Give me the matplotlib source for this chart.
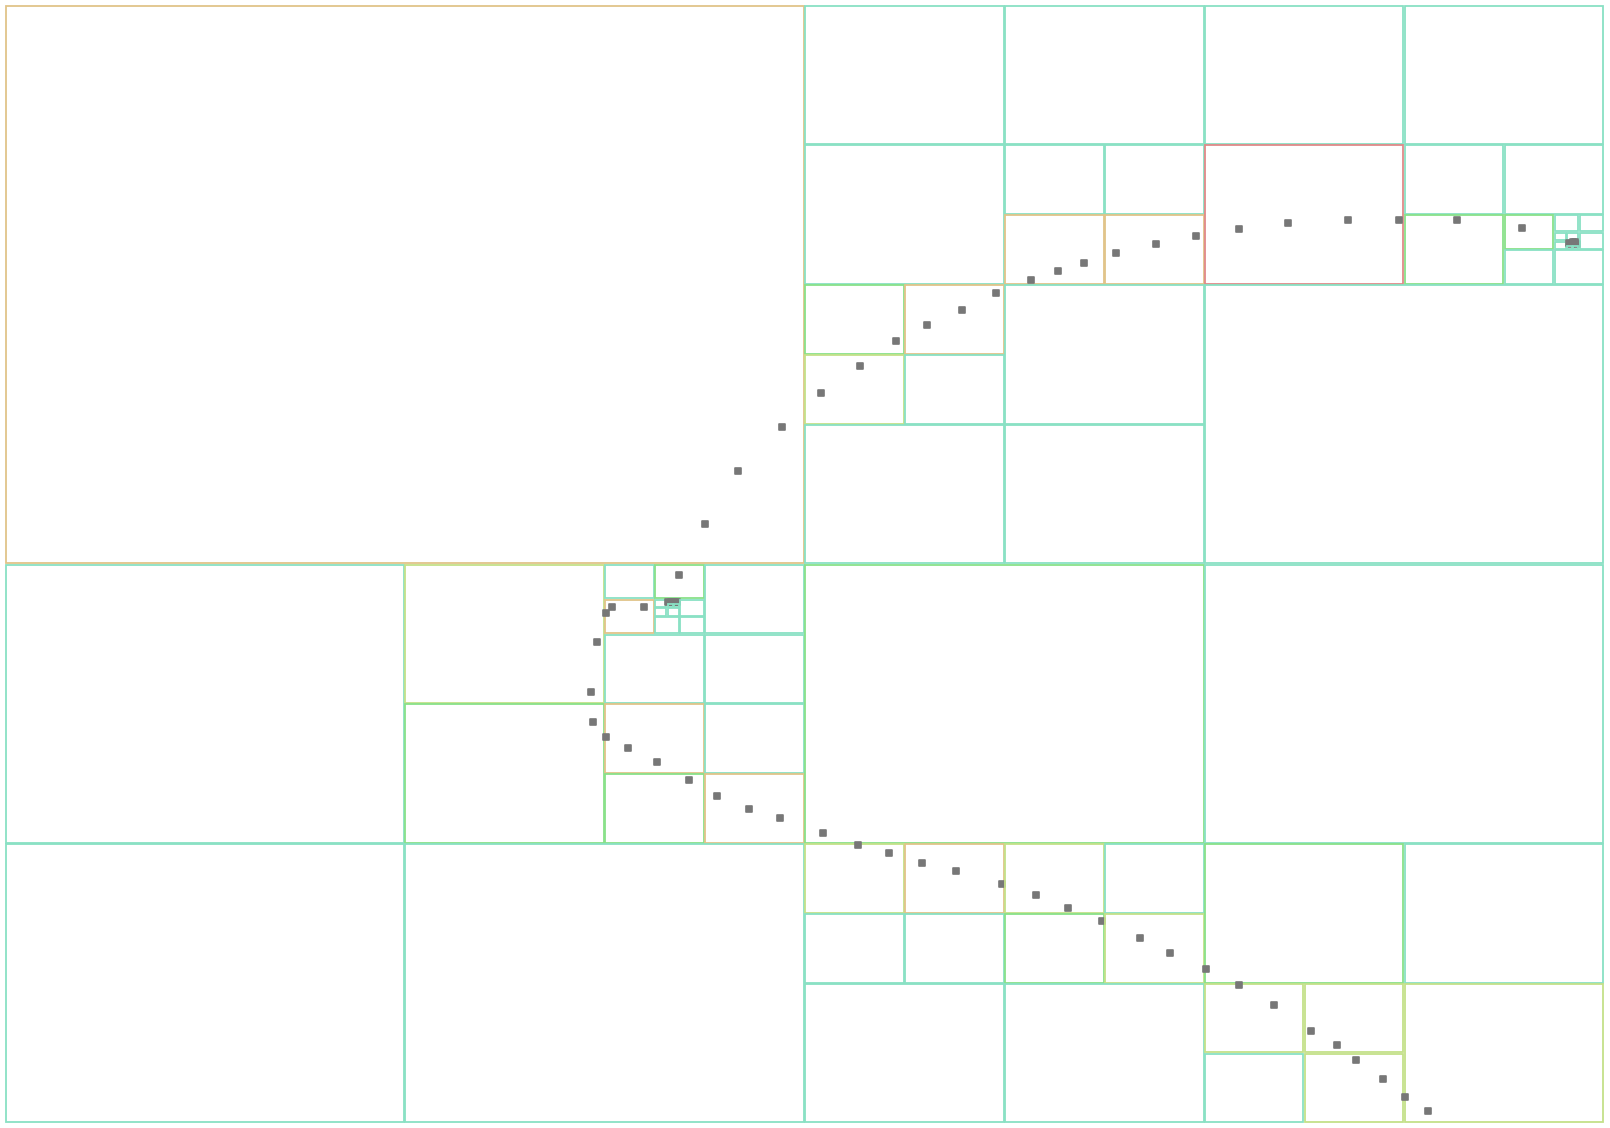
import matplotlib.pyplot as plt
from matplotlib.patches import Rectangle
from matplotlib.markers import MarkerStyle

# sample points (pixel coords, y grows downward)
pts_x = [1428, 1405, 1383, 1356, 1337, 1311, 1274, 1239, 1206, 1170,
         1140, 1102, 1068, 1036, 1002, 956, 922, 889, 858, 823,
         780, 749, 717, 689, 657, 628, 605.5, 593, 591, 597,
         605.5, 612, 644,
         668, 670.5, 672.5, 675, 677,
         679, 705, 738, 782, 821, 860, 896, 927, 962, 996,
         1031, 1058, 1084, 1116, 1156, 1196, 1239, 1288, 1348, 1399,
         1457, 1522,
         1569, 1571, 1573, 1575, 1577]
pts_y = [1111, 1097, 1079, 1060, 1045, 1031, 1005, 984.5, 969, 953,
         938, 921, 908, 895, 884, 871, 863, 853, 844.5, 833,
         818, 809, 796, 780, 762, 748, 737, 722, 692, 642,
         613, 607, 607,
         601.5, 602, 601.5, 602, 601.5,
         575, 524, 471, 427, 393, 366, 341, 325, 310, 293,
         280, 271, 263, 253, 244, 236, 229, 223, 220, 220,
         220, 228,
         242.5, 244, 242, 242, 243.5]

bounds = (5, 5, 1604, 1123)
capacity = 4
# colour by number of points in a leaf (0..4)
count_colors = ['#89e1c4', '#89e189', '#c4e189', '#e1c489', '#e18989']


def build(x0, y0, x1, y1, idx, depth=0):
    if len(idx) <= capacity or depth > 12:
        return [(x0, y0, x1, y1, idx)]
    xm, ym = (x0 + x1) / 2, (y0 + y1) / 2
    out = []
    for a, b, c, d in [(x0, y0, xm, ym), (xm, y0, x1, ym),
                       (x0, ym, xm, y1), (xm, ym, x1, y1)]:
        sub = [i for i in idx if a <= pts_x[i] < c and b <= pts_y[i] < d]
        out += build(a, b, c, d, sub, depth + 1)
    return out


leaves = build(*bounds, list(range(len(pts_x))))

fig = plt.figure(figsize=(16.1, 11.28), dpi=100)
ax = fig.add_axes([0, 0, 1, 1])
ax.set_xlim(0, 1610)
ax.set_ylim(1128, 0)
ax.axis('off')

dot = MarkerStyle('s', joinstyle='round')
z = 1
for x0, y0, x1, y1, idx in leaves:
    ax.add_patch(Rectangle((x0 + 0.7, y0 + 0.7), x1 - x0 - 1.4, y1 - y0 - 1.4,
                           fill=False, ec=count_colors[min(len(idx), 4)],
                           lw=1.3, zorder=z))
    z += 1
    if idx:
        ax.scatter([pts_x[i] for i in idx], [pts_y[i] for i in idx],
                   marker=dot, s=17, c='#777777', edgecolors='#777777',
                   linewidths=1.2, zorder=z)
        z += 1

fig.savefig('out.png', dpi=100, facecolor='white')
